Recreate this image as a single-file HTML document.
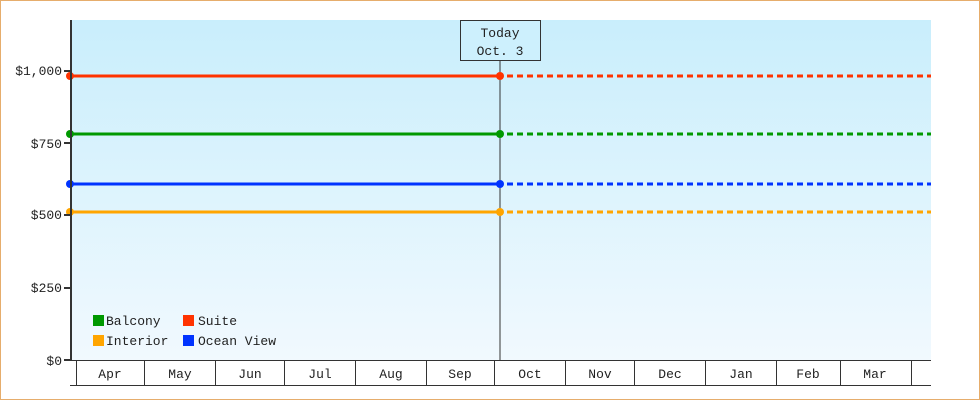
<!DOCTYPE html>
<html><head><meta charset="utf-8"><style>
html,body{margin:0;padding:0;background:#fff}
svg{display:block}
text{font-family:"Liberation Mono","DejaVu Sans Mono",monospace;font-size:13px;fill:#222}
</style></head><body>
<svg width="980" height="400" viewBox="0 0 980 400" xmlns="http://www.w3.org/2000/svg">
<defs><linearGradient id="g" x1="0" y1="0" x2="0" y2="1"><stop offset="0" stop-color="#c9eefc"/><stop offset="1" stop-color="#f1f9fe"/></linearGradient></defs>
<rect x="0.5" y="0.5" width="979" height="399" fill="#fff" stroke="#e6ad6c"/>
<rect x="71" y="20" width="860" height="340" fill="url(#g)"/>
<!-- today -->
<line x1="500" y1="60" x2="500" y2="360" stroke="#333" stroke-width="1"/>
<rect x="460.5" y="20.5" width="80" height="40" fill="#cdf0fd" stroke="#333"/>
<text x="500" y="37" text-anchor="middle">Today</text>
<text x="500" y="55" text-anchor="middle">Oct. 3</text>
<!-- series -->
<g stroke-width="3">
<line x1="71" y1="76" x2="500" y2="76" stroke="#ff3300"/><line x1="507" y1="76" x2="931" y2="76" stroke="#ff3300" stroke-dasharray="6,4"/>
<line x1="71" y1="134" x2="500" y2="134" stroke="#009900"/><line x1="507" y1="134" x2="931" y2="134" stroke="#009900" stroke-dasharray="6,4"/>
<line x1="71" y1="184" x2="500" y2="184" stroke="#0033ff"/><line x1="507" y1="184" x2="931" y2="184" stroke="#0033ff" stroke-dasharray="6,4"/>
<line x1="71" y1="212" x2="500" y2="212" stroke="#ffa500"/><line x1="507" y1="212" x2="931" y2="212" stroke="#ffa500" stroke-dasharray="6,4"/>
</g>
<g>
<circle cx="70" cy="76" r="4" fill="#ff3300"/><circle cx="500" cy="76" r="4" fill="#ff3300"/>
<circle cx="70" cy="134" r="4" fill="#009900"/><circle cx="500" cy="134" r="4" fill="#009900"/>
<circle cx="70" cy="184" r="4" fill="#0033ff"/><circle cx="500" cy="184" r="4" fill="#0033ff"/>
<circle cx="70" cy="212" r="4" fill="#ffa500"/><circle cx="500" cy="212" r="4" fill="#ffa500"/>
</g>
<!-- y axis -->
<line x1="71" y1="20" x2="71" y2="361" stroke="#333" stroke-width="2"/>
<g stroke="#333" stroke-width="2">
<line x1="64" y1="71" x2="71" y2="71"/><line x1="64" y1="143" x2="71" y2="143"/><line x1="64" y1="215" x2="71" y2="215"/><line x1="64" y1="288" x2="71" y2="288"/><line x1="64" y1="360" x2="71" y2="360"/>
</g>
<g text-anchor="end">
<text x="62" y="75">$1,000</text><text x="62" y="148">$750</text><text x="62" y="219">$500</text><text x="62" y="292">$250</text><text x="62" y="365">$0</text>
</g>
<!-- x band -->
<g stroke="#333" stroke-width="1">
<line x1="70" y1="360.5" x2="931" y2="360.5"/>
<line x1="70" y1="385.5" x2="931" y2="385.5"/>
<line x1="76.5" y1="360" x2="76.5" y2="385"/><line x1="144.5" y1="360" x2="144.5" y2="385"/><line x1="215.5" y1="360" x2="215.5" y2="385"/><line x1="284.5" y1="360" x2="284.5" y2="385"/><line x1="355.5" y1="360" x2="355.5" y2="385"/><line x1="426.5" y1="360" x2="426.5" y2="385"/><line x1="494.5" y1="360" x2="494.5" y2="385"/><line x1="565.5" y1="360" x2="565.5" y2="385"/><line x1="634.5" y1="360" x2="634.5" y2="385"/><line x1="705.5" y1="360" x2="705.5" y2="385"/><line x1="776.5" y1="360" x2="776.5" y2="385"/><line x1="840.5" y1="360" x2="840.5" y2="385"/><line x1="911.5" y1="360" x2="911.5" y2="385"/>
</g>
<g text-anchor="middle">
<text x="110" y="378">Apr</text><text x="180" y="378">May</text><text x="250" y="378">Jun</text><text x="320" y="378">Jul</text><text x="391" y="378">Aug</text><text x="460" y="378">Sep</text><text x="530" y="378">Oct</text><text x="600" y="378">Nov</text><text x="670" y="378">Dec</text><text x="741" y="378">Jan</text><text x="808" y="378">Feb</text><text x="875" y="378">Mar</text>
</g>
<!-- legend -->
<rect x="93" y="315" width="11" height="11" fill="#009900"/><text x="106" y="325">Balcony</text>
<rect x="183" y="315" width="11" height="11" fill="#ff3300"/><text x="198" y="325">Suite</text>
<rect x="93" y="335" width="11" height="11" fill="#ffa500"/><text x="106" y="345">Interior</text>
<rect x="183" y="335" width="11" height="11" fill="#0033ff"/><text x="198" y="345">Ocean View</text>
</svg>
</body></html>
